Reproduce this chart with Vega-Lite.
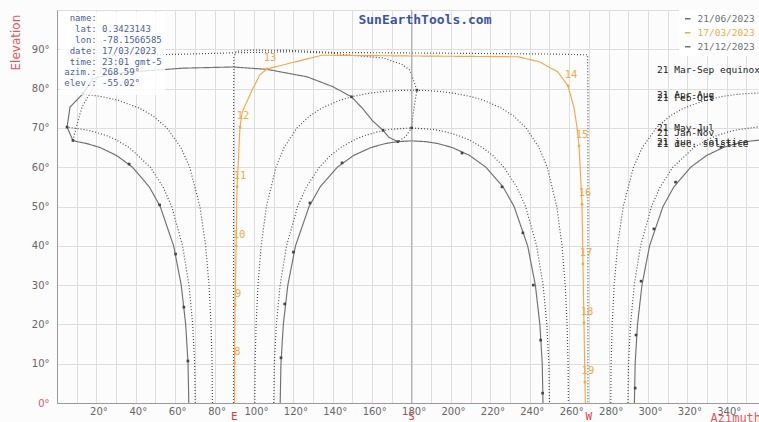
{
  "$schema": "https://vega.github.io/schema/vega-lite/v6.json",
  "width": 702,
  "height": 393,
  "autosize": {"type": "none"},
  "padding": {"left": 57, "top": 10, "right": 0, "bottom": 19},
  "background": "#fdfcfd",
  "config": {"view": {"stroke": null}, "font": "DejaVu Sans"},
  "datasets": {
    "paths": [
      {"s":"21/06/2023","g":"jun-e","az":66.9,"el":0},{"s":"21/06/2023","g":"jun-e","az":66.52,"el":10},{"s":"21/06/2023","g":"jun-e","az":65.32,"el":20},{"s":"21/06/2023","g":"jun-e","az":63.06,"el":30},{"s":"21/06/2023","g":"jun-e","az":59.2,"el":40},{"s":"21/06/2023","g":"jun-e","az":52.39,"el":50},{"s":"21/06/2023","g":"jun-e","az":46.85,"el":55},{"s":"21/06/2023","g":"jun-e","az":38.31,"el":60},{"s":"21/06/2023","g":"jun-e","az":30.21,"el":63},{"s":"21/06/2023","g":"jun-e","az":21.82,"el":65},{"s":"21/06/2023","g":"jun-e","az":15.3,"el":66},{"s":"21/06/2023","g":"jun-e","az":10.3,"el":66.5},{"s":"21/06/2023","g":"jun-e","az":8.1,"el":66.8},
      {"s":"21/06/2023","g":"jun-w","az":293.1,"el":0},{"s":"21/06/2023","g":"jun-w","az":293.48,"el":10},{"s":"21/06/2023","g":"jun-w","az":294.68,"el":20},{"s":"21/06/2023","g":"jun-w","az":296.94,"el":30},{"s":"21/06/2023","g":"jun-w","az":300.8,"el":40},{"s":"21/06/2023","g":"jun-w","az":307.61,"el":50},{"s":"21/06/2023","g":"jun-w","az":313.15,"el":55},{"s":"21/06/2023","g":"jun-w","az":321.69,"el":60},{"s":"21/06/2023","g":"jun-w","az":329.79,"el":63},{"s":"21/06/2023","g":"jun-w","az":338.18,"el":65},{"s":"21/06/2023","g":"jun-w","az":344.7,"el":66},{"s":"21/06/2023","g":"jun-w","az":349.7,"el":66.5},{"s":"21/06/2023","g":"jun-w","az":356.4,"el":66.9},
      {"s":"may-jul","g":"mj-e","az":70.2,"el":0},{"s":"may-jul","g":"mj-e","az":69.88,"el":10},{"s":"may-jul","g":"mj-e","az":68.87,"el":20},{"s":"may-jul","g":"mj-e","az":66.98,"el":30},{"s":"may-jul","g":"mj-e","az":63.76,"el":40},{"s":"may-jul","g":"mj-e","az":58.21,"el":50},{"s":"may-jul","g":"mj-e","az":53.81,"el":55},{"s":"may-jul","g":"mj-e","az":47.36,"el":60},{"s":"may-jul","g":"mj-e","az":36.72,"el":65},{"s":"may-jul","g":"mj-e","az":29.9,"el":67},{"s":"may-jul","g":"mj-e","az":25.3,"el":68},{"s":"may-jul","g":"mj-e","az":19.06,"el":69},{"s":"may-jul","g":"mj-e","az":14.7,"el":69.5},{"s":"may-jul","g":"mj-e","az":8,"el":70},{"s":"may-jul","g":"mj-e","az":5.1,"el":70.2},
      {"s":"may-jul","g":"mj-w","az":289.8,"el":0},{"s":"may-jul","g":"mj-w","az":290.12,"el":10},{"s":"may-jul","g":"mj-w","az":291.13,"el":20},{"s":"may-jul","g":"mj-w","az":293.02,"el":30},{"s":"may-jul","g":"mj-w","az":296.24,"el":40},{"s":"may-jul","g":"mj-w","az":301.79,"el":50},{"s":"may-jul","g":"mj-w","az":306.19,"el":55},{"s":"may-jul","g":"mj-w","az":312.64,"el":60},{"s":"may-jul","g":"mj-w","az":323.28,"el":65},{"s":"may-jul","g":"mj-w","az":330.1,"el":67},{"s":"may-jul","g":"mj-w","az":334.7,"el":68},{"s":"may-jul","g":"mj-w","az":340.94,"el":69},{"s":"may-jul","g":"mj-w","az":345.3,"el":69.5},{"s":"may-jul","g":"mj-w","az":352,"el":70},{"s":"may-jul","g":"mj-w","az":356.4,"el":70.3},
      {"s":"apr-aug","g":"aa-e","az":78.9,"el":0},{"s":"apr-aug","g":"aa-e","az":78.73,"el":10},{"s":"apr-aug","g":"aa-e","az":78.18,"el":20},{"s":"apr-aug","g":"aa-e","az":77.16,"el":30},{"s":"apr-aug","g":"aa-e","az":75.44,"el":40},{"s":"apr-aug","g":"aa-e","az":72.57,"el":50},{"s":"apr-aug","g":"aa-e","az":67.36,"el":60},{"s":"apr-aug","g":"aa-e","az":62.9,"el":65},{"s":"apr-aug","g":"aa-e","az":55.75,"el":70},{"s":"apr-aug","g":"aa-e","az":48.82,"el":73},{"s":"apr-aug","g":"aa-e","az":41.94,"el":75},{"s":"apr-aug","g":"aa-e","az":31.16,"el":77},{"s":"apr-aug","g":"aa-e","az":22.28,"el":78},{"s":"apr-aug","g":"aa-e","az":15.2,"el":78.5},{"s":"apr-aug","g":"aa-e","az":13.2,"el":78.7},
      {"s":"apr-aug","g":"aa-w","az":281.1,"el":0},{"s":"apr-aug","g":"aa-w","az":281.27,"el":10},{"s":"apr-aug","g":"aa-w","az":281.82,"el":20},{"s":"apr-aug","g":"aa-w","az":282.84,"el":30},{"s":"apr-aug","g":"aa-w","az":284.56,"el":40},{"s":"apr-aug","g":"aa-w","az":287.43,"el":50},{"s":"apr-aug","g":"aa-w","az":292.64,"el":60},{"s":"apr-aug","g":"aa-w","az":297.1,"el":65},{"s":"apr-aug","g":"aa-w","az":304.25,"el":70},{"s":"apr-aug","g":"aa-w","az":311.18,"el":73},{"s":"apr-aug","g":"aa-w","az":318.06,"el":75},{"s":"apr-aug","g":"aa-w","az":328.84,"el":77},{"s":"apr-aug","g":"aa-w","az":337.72,"el":78},{"s":"apr-aug","g":"aa-w","az":344.8,"el":78.5},{"s":"apr-aug","g":"aa-w","az":352.4,"el":78.8},{"s":"apr-aug","g":"aa-w","az":356.4,"el":78.9},
      {"s":"mar-sep","g":"eq","az":89.6,"el":0},{"s":"mar-sep","g":"eq","az":89.6,"el":40},{"s":"mar-sep","g":"eq","az":89.7,"el":80},{"s":"mar-sep","g":"eq","az":89.8,"el":88},{"s":"mar-sep","g":"eq","az":91,"el":89.5},{"s":"mar-sep","g":"eq","az":100,"el":89.8},{"s":"mar-sep","g":"eq","az":120,"el":89.7},{"s":"mar-sep","g":"eq","az":140,"el":89.2},{"s":"mar-sep","g":"eq","az":200,"el":89.0},{"s":"mar-sep","g":"eq","az":250,"el":88.8},{"s":"mar-sep","g":"eq","az":269.3,"el":88.6},{"s":"mar-sep","g":"eq","az":269.5,"el":80},{"s":"mar-sep","g":"eq","az":269.5,"el":40},{"s":"mar-sep","g":"eq","az":269.5,"el":0},
      {"s":"feb-oct","g":"fo","az":100.4,"el":0},{"s":"feb-oct","g":"fo","az":100.56,"el":10},{"s":"feb-oct","g":"fo","az":101.07,"el":20},{"s":"feb-oct","g":"fo","az":102.03,"el":30},{"s":"feb-oct","g":"fo","az":103.63,"el":40},{"s":"feb-oct","g":"fo","az":106.31,"el":50},{"s":"feb-oct","g":"fo","az":111.16,"el":60},{"s":"feb-oct","g":"fo","az":115.28,"el":65},{"s":"feb-oct","g":"fo","az":121.85,"el":70},{"s":"feb-oct","g":"fo","az":128.13,"el":73},{"s":"feb-oct","g":"fo","az":134.21,"el":75},{"s":"feb-oct","g":"fo","az":143.36,"el":77},{"s":"feb-oct","g":"fo","az":150.25,"el":78},{"s":"feb-oct","g":"fo","az":158.33,"el":78.8},{"s":"feb-oct","g":"fo","az":166.4,"el":79.3},{"s":"feb-oct","g":"fo","az":172.2,"el":79.5},{"s":"feb-oct","g":"fo","az":180,"el":79.6},{"s":"feb-oct","g":"fo","az":187.8,"el":79.5},{"s":"feb-oct","g":"fo","az":193.6,"el":79.3},{"s":"feb-oct","g":"fo","az":201.67,"el":78.8},{"s":"feb-oct","g":"fo","az":209.75,"el":78},{"s":"feb-oct","g":"fo","az":216.64,"el":77},{"s":"feb-oct","g":"fo","az":225.79,"el":75},{"s":"feb-oct","g":"fo","az":231.87,"el":73},{"s":"feb-oct","g":"fo","az":238.15,"el":70},{"s":"feb-oct","g":"fo","az":244.72,"el":65},{"s":"feb-oct","g":"fo","az":248.84,"el":60},{"s":"feb-oct","g":"fo","az":253.69,"el":50},{"s":"feb-oct","g":"fo","az":256.37,"el":40},{"s":"feb-oct","g":"fo","az":257.97,"el":30},{"s":"feb-oct","g":"fo","az":258.93,"el":20},{"s":"feb-oct","g":"fo","az":259.44,"el":10},{"s":"feb-oct","g":"fo","az":259.6,"el":0},
      {"s":"jan-nov","g":"jn","az":110,"el":0},{"s":"jan-nov","g":"jn","az":110.32,"el":10},{"s":"jan-nov","g":"jn","az":111.35,"el":20},{"s":"jan-nov","g":"jn","az":113.26,"el":30},{"s":"jan-nov","g":"jn","az":116.52,"el":40},{"s":"jan-nov","g":"jn","az":122.15,"el":50},{"s":"jan-nov","g":"jn","az":126.61,"el":55},{"s":"jan-nov","g":"jn","az":133.16,"el":60},{"s":"jan-nov","g":"jn","az":138.88,"el":63},{"s":"jan-nov","g":"jn","az":144.02,"el":65},{"s":"jan-nov","g":"jn","az":151.09,"el":67},{"s":"jan-nov","g":"jn","az":155.92,"el":68},{"s":"jan-nov","g":"jn","az":162.6,"el":69},{"s":"jan-nov","g":"jn","az":168.8,"el":69.6},{"s":"jan-nov","g":"jn","az":180,"el":70},{"s":"jan-nov","g":"jn","az":191.2,"el":69.6},{"s":"jan-nov","g":"jn","az":197.4,"el":69},{"s":"jan-nov","g":"jn","az":204.08,"el":68},{"s":"jan-nov","g":"jn","az":208.91,"el":67},{"s":"jan-nov","g":"jn","az":215.98,"el":65},{"s":"jan-nov","g":"jn","az":221.12,"el":63},{"s":"jan-nov","g":"jn","az":226.84,"el":60},{"s":"jan-nov","g":"jn","az":233.39,"el":55},{"s":"jan-nov","g":"jn","az":237.85,"el":50},{"s":"jan-nov","g":"jn","az":243.48,"el":40},{"s":"jan-nov","g":"jn","az":246.74,"el":30},{"s":"jan-nov","g":"jn","az":248.65,"el":20},{"s":"jan-nov","g":"jn","az":249.68,"el":10},{"s":"jan-nov","g":"jn","az":250,"el":0},
      {"s":"21/12/2023","g":"dec","az":113.3,"el":0},{"s":"21/12/2023","g":"dec","az":113.68,"el":10},{"s":"21/12/2023","g":"dec","az":114.89,"el":20},{"s":"21/12/2023","g":"dec","az":117.18,"el":30},{"s":"21/12/2023","g":"dec","az":121.08,"el":40},{"s":"21/12/2023","g":"dec","az":127.97,"el":50},{"s":"21/12/2023","g":"dec","az":133.59,"el":55},{"s":"21/12/2023","g":"dec","az":142.28,"el":60},{"s":"21/12/2023","g":"dec","az":150.59,"el":63},{"s":"21/12/2023","g":"dec","az":159.38,"el":65},{"s":"21/12/2023","g":"dec","az":166.5,"el":66},{"s":"21/12/2023","g":"dec","az":172.7,"el":66.5},{"s":"21/12/2023","g":"dec","az":180,"el":66.7},{"s":"21/12/2023","g":"dec","az":187.3,"el":66.5},{"s":"21/12/2023","g":"dec","az":193.5,"el":66},{"s":"21/12/2023","g":"dec","az":200.62,"el":65},{"s":"21/12/2023","g":"dec","az":209.41,"el":63},{"s":"21/12/2023","g":"dec","az":217.72,"el":60},{"s":"21/12/2023","g":"dec","az":226.41,"el":55},{"s":"21/12/2023","g":"dec","az":232.03,"el":50},{"s":"21/12/2023","g":"dec","az":238.92,"el":40},{"s":"21/12/2023","g":"dec","az":242.82,"el":30},{"s":"21/12/2023","g":"dec","az":245.11,"el":20},{"s":"21/12/2023","g":"dec","az":246.32,"el":10},{"s":"21/12/2023","g":"dec","az":246.7,"el":0},
      {"s":"12h-a","g":"ha","az":8.1,"el":66.8},{"s":"12h-a","g":"ha","az":5.1,"el":70.2},{"s":"12h-a","g":"ha","az":6.6,"el":75.3},{"s":"12h-a","g":"ha","az":13.2,"el":78.7},{"s":"12h-a","g":"ha","az":18.3,"el":82.5},{"s":"12h-a","g":"ha","az":26,"el":83.6},{"s":"12h-a","g":"ha","az":38.6,"el":84.3},{"s":"12h-a","g":"ha","az":64,"el":85.2},{"s":"12h-a","g":"ha","az":89.3,"el":85.5},{"s":"12h-a","g":"ha","az":106.6,"el":84.9},{"s":"12h-a","g":"ha","az":126.9,"el":83},{"s":"12h-a","g":"ha","az":140,"el":80.5},{"s":"12h-a","g":"ha","az":149.5,"el":77.9},{"s":"12h-a","g":"ha","az":155,"el":75},{"s":"12h-a","g":"ha","az":160.4,"el":71.7},{"s":"12h-a","g":"ha","az":165.5,"el":69.4},{"s":"12h-a","g":"ha","az":168.5,"el":67.6},{"s":"12h-a","g":"ha","az":173,"el":66.5},
      {"s":"12h-b","g":"hb","az":8.1,"el":66.8},{"s":"12h-b","g":"hb","az":10.2,"el":71},{"s":"12h-b","g":"hb","az":12.7,"el":75.3},{"s":"12h-b","g":"hb","az":16.8,"el":78.9},{"s":"12h-b","g":"hb","az":21.8,"el":84.2},{"s":"12h-b","g":"hb","az":25.9,"el":88.3},{"s":"12h-b","g":"hb","az":40,"el":88.6},{"s":"12h-b","g":"hb","az":60,"el":88.7},{"s":"12h-b","g":"hb","az":89.3,"el":89.1},{"s":"12h-b","g":"hb","az":120,"el":89.4},{"s":"12h-b","g":"hb","az":140,"el":89.0},{"s":"12h-b","g":"hb","az":148.7,"el":88.5},{"s":"12h-b","g":"hb","az":165.5,"el":87.8},{"s":"12h-b","g":"hb","az":175,"el":86.2},{"s":"12h-b","g":"hb","az":179.2,"el":84.7},{"s":"12h-b","g":"hb","az":182.7,"el":79.6},{"s":"12h-b","g":"hb","az":181.5,"el":76},{"s":"12h-b","g":"hb","az":180.5,"el":72.5},{"s":"12h-b","g":"hb","az":180,"el":70},{"s":"12h-b","g":"hb","az":177,"el":67.8},{"s":"12h-b","g":"hb","az":173,"el":66.5},
      {"s":"17/03/2023","g":"o","az":90.1,"el":0},{"s":"17/03/2023","g":"o","az":90.1,"el":10.2},{"s":"17/03/2023","g":"o","az":90.4,"el":24.9},{"s":"17/03/2023","g":"o","az":90.9,"el":40},{"s":"17/03/2023","g":"o","az":91.4,"el":55},{"s":"17/03/2023","g":"o","az":92.9,"el":70.2},{"s":"17/03/2023","g":"o","az":94,"el":74},{"s":"17/03/2023","g":"o","az":99,"el":79.6},{"s":"17/03/2023","g":"o","az":103,"el":83.5},{"s":"17/03/2023","g":"o","az":106.6,"el":85},{"s":"17/03/2023","g":"o","az":134.5,"el":88.5},{"s":"17/03/2023","g":"o","az":180,"el":88.3},{"s":"17/03/2023","g":"o","az":234,"el":88.1},{"s":"17/03/2023","g":"o","az":245,"el":86.8},{"s":"17/03/2023","g":"o","az":254.3,"el":84.2},{"s":"17/03/2023","g":"o","az":259.4,"el":80.7},{"s":"17/03/2023","g":"o","az":262.5,"el":75},{"s":"17/03/2023","g":"o","az":264,"el":70},{"s":"17/03/2023","g":"o","az":265,"el":65.4},{"s":"17/03/2023","g":"o","az":266.5,"el":50.6},{"s":"17/03/2023","g":"o","az":267,"el":35.4},{"s":"17/03/2023","g":"o","az":267.5,"el":20.4},{"s":"17/03/2023","g":"o","az":268,"el":5.3},{"s":"17/03/2023","g":"o","az":268.2,"el":0}
    ],
    "marks": [
      {"az":66.45,"el":10.7},{"az":64.4,"el":24.4},{"az":60.2,"el":37.9},{"az":52.1,"el":50.4},{"az":36.6,"el":60.8},{"az":8.1,"el":66.8},{"az":5.1,"el":70.2},{"az":13.2,"el":78.7},
      {"az":293.5,"el":3.8},{"az":293.9,"el":17.3},{"az":296.5,"el":31},{"az":303,"el":44.3},{"az":314,"el":56.2},{"az":337,"el":65.1},
      {"az":113.7,"el":11.5},{"az":115.6,"el":25.2},{"az":120,"el":38.4},{"az":128.4,"el":50.9},{"az":144.7,"el":61.1},{"az":173,"el":66.5},{"az":205.6,"el":63.6},{"az":225.9,"el":55},{"az":236.5,"el":43.3},{"az":241.8,"el":30},{"az":245.5,"el":16},{"az":246.5,"el":2.5},
      {"az":149.5,"el":77.9},{"az":165.5,"el":69.4},{"az":182.7,"el":79.6},{"az":180,"el":70}
    ],
    "hours": [
      {"h":"8","az":90.1,"el":10.2},{"h":"9","az":90.4,"el":24.9},{"h":"10","az":90.9,"el":40},{"h":"11","az":91.4,"el":55},{"h":"12","az":92.9,"el":70.2},{"h":"13","az":106.6,"el":85},{"h":"14","az":259.4,"el":80.7},{"h":"15","az":265,"el":65.4},{"h":"16","az":266.5,"el":50.6},{"h":"17","az":267,"el":35.4},{"h":"18","az":267.5,"el":20.4},{"h":"19","az":268,"el":5.3}
    ],
    "daylabels": [
      {"t":"21 Mar-Sep equinox","el":84.7},{"t":"21 Apr-Aug","el":78.3},{"t":"21 Feb-Oct","el":77.7},{"t":"21 May-Jul","el":70.0},{"t":"21 Jan-Nov","el":68.8},{"t":"21 jun. solstice","el":66.3},{"t":"21 dec. solstice","el":65.9}
    ],
    "compass": [{"d":"E","az":90},{"d":"S","az":180},{"d":"W","az":270}]
  },
  "layer": [
    {
      "data": {"name": "paths"},
      "mark": {"type": "line", "strokeWidth": 1.15, "clip": true},
      "encoding": {
        "x": {"field": "az", "type": "quantitative", "scale": {"domain": [0, 356.35], "nice": false, "zero": false},
          "axis": {"tickCount": 36,
            "labelExpr": "(datum.value % 20 == 0 && datum.value > 0) ? (datum.value + '°') : ''",
            "labelOverlap": false, "labelFlush": false, "labelOffset": 2,
            "grid": true, "gridColor": "#dedede",
            "ticks": false, "domainColor": "#9a9a9a", "labelColor": "#666666", "labelFontSize": 10, "labelPadding": 3,
            "title": "Azimuth", "titleColor": "#e05a5a", "titleFont": "DejaVu Sans Mono", "titleFontWeight": "normal", "titleFontSize": 12,
            "titleX": 653, "titleY": 14, "titleAlign": "left", "titleBaseline": "middle", "titleAnchor": "start"}},
        "y": {"field": "el", "type": "quantitative", "scale": {"domain": [0, 100], "nice": false},
          "axis": {"tickCount": 10,
            "labelExpr": "datum.value < 100 ? (datum.value + '°') : ''",
            "labelOverlap": false, "labelFlush": false,
            "grid": true, "gridColor": "#dedede", "ticks": false, "domainColor": "#9a9a9a",
            "labelColor": {"condition": {"test": "datum.value == 0", "value": "#e05a5a"}, "value": "#666666"},
            "labelFontSize": 10, "labelPadding": 8,
            "title": "Elevation", "titleColor": "#e05a5a", "titleFontSize": 12, "titleFontWeight": "normal",
            "titleAngle": 270, "titleX": -42, "titleY": 60, "titleAlign": "left", "titleBaseline": "middle", "titleAnchor": "start"}},
        "color": {"field": "s", "type": "nominal",
          "scale": {"domain": ["21/06/2023","17/03/2023","21/12/2023","may-jul","apr-aug","mar-sep","feb-oct","jan-nov","12h-a","12h-b"],
                    "range": ["#707070","#f3a945","#707070","#4a4a4a","#4a4a4a","#4a4a4a","#4a4a4a","#4a4a4a","#707070","#4a4a4a"]},
          "legend": {"values": ["21/06/2023","17/03/2023","21/12/2023"], "orient": "top-right", "offset": 0, "title": null,
            "symbolType": "stroke", "symbolSize": 30, "symbolStrokeWidth": 1.3, "labelFont": "DejaVu Sans Mono", "labelFontSize": 9.5,
            "labelOffset": 5, "rowPadding": 3, "padding": 4, "fillColor": "#ffffff",
            "encode": {"labels": {"update": {"fill": {"signal": "datum.value === '17/03/2023' ? '#f3a945' : '#707070'"}}}}}},
        "strokeDash": {"field": "s", "type": "nominal",
          "scale": {"domain": ["21/06/2023","17/03/2023","21/12/2023","may-jul","apr-aug","mar-sep","feb-oct","jan-nov","12h-a","12h-b"],
                    "range": [[1,0],[1,0],[1,0],[1,2],[1,2],[1,2],[1,2],[1,2],[1,0],[1,2]]},
          "legend": null},
        "detail": {"field": "g", "type": "nominal"},
        "order": {"value": null}
      }
    },
    {
      "data": {"values": [{"ref": 180}]},
      "mark": {"type": "rule", "color": "#ababab", "strokeWidth": 1},
      "encoding": {"x": {"field": "ref", "type": "quantitative"}}
    },
    {
      "data": {"name": "marks"},
      "mark": {"type": "square", "size": 7, "color": "#444444", "opacity": 1, "filled": true},
      "encoding": {"x": {"field": "az", "type": "quantitative"}, "y": {"field": "el", "type": "quantitative"}}
    },
    {
      "data": {"name": "hours"},
      "mark": {"type": "circle", "size": 8, "color": "#f3a945", "opacity": 1},
      "encoding": {"x": {"field": "az", "type": "quantitative"}, "y": {"field": "el", "type": "quantitative"}}
    },
    {
      "data": {"name": "hours"},
      "mark": {"type": "text", "font": "DejaVu Sans Mono", "fontSize": 10.5, "color": "#f3a945", "dx": 3, "dy": -11, "align": "center", "baseline": "middle"},
      "encoding": {"x": {"field": "az", "type": "quantitative"}, "y": {"field": "el", "type": "quantitative"}, "text": {"field": "h"}}
    },
    {
      "data": {"values": [{}]},
      "mark": {"type": "rect", "fill": "#ffffff", "opacity": 0.8},
      "encoding": {"x": {"datum": 1.5}, "x2": {"datum": 55}, "y": {"datum": 78.4}, "y2": {"datum": 99.5}}
    },
    {
      "data": {"values": [{}]},
      "mark": {"type": "text", "font": "DejaVu Sans Mono", "fontSize": 9, "color": "#4a5fa3", "align": "right", "baseline": "alphabetic", "lineHeight": 10.8,
        "text": ["name:", "lat:", "lon:", "date:", "time:", "azim.:", "elev.:"]},
      "encoding": {"x": {"datum": 20.2}, "y": {"datum": 97.1}}
    },
    {
      "data": {"values": [{}]},
      "mark": {"type": "text", "font": "DejaVu Sans Mono", "fontSize": 9, "color": "#4a5fa3", "align": "left", "baseline": "alphabetic", "lineHeight": 10.8,
        "text": [" ", "0.3423143", "-78.1566585", "17/03/2023", "23:01 gmt-5", "268.59°", "-55.02°"]},
      "encoding": {"x": {"datum": 22.9}, "y": {"datum": 97.1}}
    },
    {
      "data": {"values": [{}]},
      "mark": {"type": "text", "font": "DejaVu Sans Mono", "fontSize": 13, "fontWeight": "bold", "color": "#3a55a5", "align": "center", "baseline": "middle", "text": "SunEarthTools.com"},
      "encoding": {"x": {"datum": 186.8}, "y": {"datum": 97.4}}
    },
    {
      "data": {"name": "daylabels"},
      "mark": {"type": "text", "font": "DejaVu Sans Mono", "fontSize": 9.5, "color": "#222222", "align": "left", "baseline": "middle"},
      "encoding": {"x": {"datum": 304.6}, "y": {"field": "el", "type": "quantitative"}, "text": {"field": "t"}}
    },
    {
      "data": {"name": "compass"},
      "mark": {"type": "text", "font": "DejaVu Sans Mono", "fontSize": 11, "color": "#e03c3c", "align": "center", "baseline": "middle"},
      "encoding": {"x": {"field": "az", "type": "quantitative"}, "y": {"datum": -3.6}, "text": {"field": "d"}}
    }
  ]
}
